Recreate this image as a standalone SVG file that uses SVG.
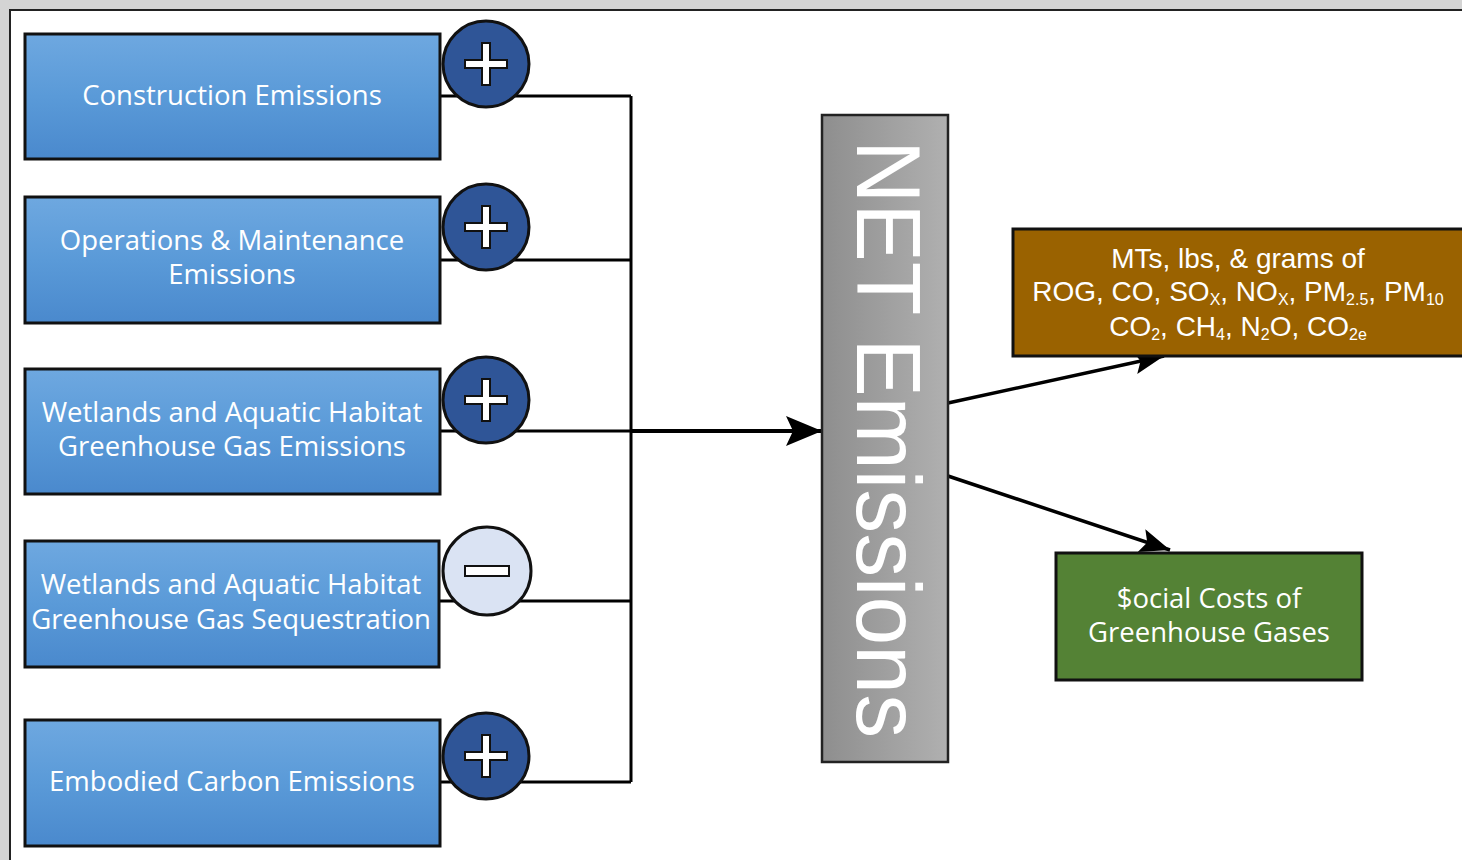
<svg xmlns="http://www.w3.org/2000/svg" width="1462" height="860" viewBox="0 0 1462 860">
<defs>
<linearGradient id="blueG" x1="0" y1="0" x2="0" y2="1">
<stop offset="0" stop-color="#6ea8e0"/>
<stop offset="0.5" stop-color="#5a9ad8"/>
<stop offset="1" stop-color="#4a89cd"/>
</linearGradient>
<linearGradient id="grayG" x1="0" y1="0" x2="1" y2="0">
<stop offset="0" stop-color="#8e8e8e"/>
<stop offset="1" stop-color="#b0b0b0"/>
</linearGradient>
<marker id="bigArrow" markerUnits="userSpaceOnUse" markerWidth="38" markerHeight="32" refX="36" refY="16" orient="auto">
<path d="M0,1 L36,16 L0,31 L7,16 z" fill="#000"/>
</marker>
<marker id="smallArrow" markerUnits="userSpaceOnUse" markerWidth="32" markerHeight="26" refX="30" refY="13" orient="auto">
<path d="M0,1 L30,13 L0,25 L6,13 z" fill="#000"/>
</marker>
<path id="plus" d="M-4,-21 H4 V-4 H21 V4 H4 V21 H-4 V4 H-21 V-4 H-4 Z"/>
</defs>
<style>
.box{fill:url(#blueG);stroke:#111;stroke-width:3}
.lbl{font-family:"Open Sans","Liberation Sans",sans-serif;font-size:27.5px;fill:#fff;text-anchor:middle}
.lbl2{font-family:"Liberation Sans",Arial,sans-serif;font-size:28px;fill:#fff;text-anchor:middle}
.plusC{fill:#2f5597;stroke:#111;stroke-width:3}
.minusC{fill:#dae3f3;stroke:#111;stroke-width:3}
.sign{fill:#fff;stroke:#111;stroke-width:2}
.conn{fill:none;stroke:#000;stroke-width:3}
.sub{font-size:16px}
</style>
<rect x="0" y="0" width="1462" height="860" fill="#d4d4d4"/>
<rect x="10" y="10" width="1470" height="870" fill="#fff" stroke="#222" stroke-width="2"/>

<g id="connectors">
<path class="conn" d="M440,96 H631 M440,260 H631 M440,431 H631 M440,601 H631 M440,782 H631 M631,96 V782"/>
<line x1="631" y1="431" x2="822" y2="431" stroke="#000" stroke-width="4" marker-end="url(#bigArrow)"/>
<line x1="948" y1="403" x2="1164" y2="356" stroke="#000" stroke-width="3.5" marker-end="url(#smallArrow)"/>
<line x1="948" y1="476" x2="1170" y2="550" stroke="#000" stroke-width="3.5" marker-end="url(#smallArrow)"/>
</g>

<g id="construction">
<rect class="box" x="25" y="34" width="415" height="125"/>
<text class="lbl" x="232" y="105">Construction Emissions</text>
<circle class="plusC" cx="486" cy="64" r="43"/>
<use href="#plus" class="sign" x="486" y="64"/>
</g>

<g id="operations">
<rect class="box" x="25" y="197" width="415" height="126"/>
<text class="lbl" x="232" y="250">Operations &amp; Maintenance</text>
<text class="lbl" x="232" y="284">Emissions</text>
<circle class="plusC" cx="486" cy="227" r="43"/>
<use href="#plus" class="sign" x="486" y="227"/>
</g>

<g id="wetlands-emissions">
<rect class="box" x="25" y="369" width="415" height="125"/>
<text class="lbl" x="232" y="422">Wetlands and Aquatic Habitat</text>
<text class="lbl" x="232" y="456">Greenhouse Gas Emissions</text>
<circle class="plusC" cx="486" cy="400" r="43"/>
<use href="#plus" class="sign" x="486" y="400"/>
</g>

<g id="wetlands-sequestration">
<rect class="box" x="25" y="541" width="414" height="126"/>
<text class="lbl" x="231" y="594">Wetlands and Aquatic Habitat</text>
<text class="lbl" x="231" y="629">Greenhouse Gas Sequestration</text>
<circle class="minusC" cx="487" cy="571" r="44"/>
<rect class="sign" x="465" y="566" width="44" height="10"/>
</g>

<g id="embodied">
<rect class="box" x="25" y="720" width="415" height="126"/>
<text class="lbl" x="232" y="791">Embodied Carbon Emissions</text>
<circle class="plusC" cx="486" cy="756" r="43"/>
<use href="#plus" class="sign" x="486" y="756"/>
</g>

<g id="net-emissions">
<rect x="822" y="115" width="126" height="647" fill="url(#grayG)" stroke="#222" stroke-width="2.5"/>
<text transform="translate(857,439) rotate(90)" x="0" y="0" font-family="Liberation Sans, Arial, sans-serif" font-size="90" fill="#fff" text-anchor="middle" textLength="598" lengthAdjust="spacingAndGlyphs">NET Emissions</text>
</g>

<g id="pollutants">
<rect x="1013" y="229" width="460" height="127" fill="#9a6200" stroke="#111" stroke-width="3"/>
<text class="lbl2" x="1238" y="268">MTs, lbs, &amp; grams of</text>
<text class="lbl2" x="1238" y="301">ROG, CO, SO<tspan class="sub" dy="4">X</tspan><tspan dy="-4">, NO</tspan><tspan class="sub" dy="4">X</tspan><tspan dy="-4">, PM</tspan><tspan class="sub" dy="4">2.5</tspan><tspan dy="-4">, PM</tspan><tspan class="sub" dy="4">10</tspan></text>
<text class="lbl2" x="1238" y="336">CO<tspan class="sub" dy="4">2</tspan><tspan dy="-4">, CH</tspan><tspan class="sub" dy="4">4</tspan><tspan dy="-4">, N</tspan><tspan class="sub" dy="4">2</tspan><tspan dy="-4">O, CO</tspan><tspan class="sub" dy="4">2e</tspan></text>
</g>

<g id="social-costs">
<rect x="1056" y="553" width="306" height="127" fill="#548235" stroke="#111" stroke-width="3"/>
<text class="lbl" x="1209" y="608">$ocial Costs of</text>
<text class="lbl" x="1209" y="642">Greenhouse Gases</text>
</g>
</svg>
